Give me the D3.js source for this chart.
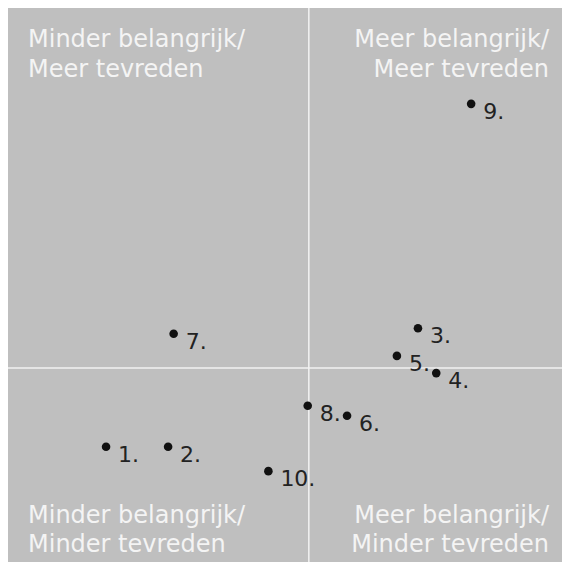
<!DOCTYPE html>
<html><head><meta charset="utf-8">
<script src="https://cdn.jsdelivr.net/npm/d3@7"></script>
<style>html,body{margin:0;padding:0;background:#fff;}svg{display:block;}</style>
</head><body>
<script>
const labels = ["1.","2.","3.","4.","5.","6.","7.","8.","9.","10."];
const belang = [17.7, 28.9, 74.0, 77.3, 70.2, 61.2, 29.9, 54.1, 83.6, 47.0];
const tevreden = [20.8, 20.8, 42.2, 34.1, 37.2, 26.4, 41.2, 28.2, 82.7, 16.4];
const xCross = 54.3, yCross = 35.0;
const quadrantText = [
  {lines:["Minder belangrijk/","Meer tevreden"], qx:"left", qy:"top"},
  {lines:["Meer belangrijk/","Meer tevreden"], qx:"right", qy:"top"},
  {lines:["Minder belangrijk/","Minder tevreden"], qx:"left", qy:"bottom"},
  {lines:["Meer belangrijk/","Minder tevreden"], qx:"right", qy:"bottom"}
];
const W=562,H=562;
const svg=d3.select("body").append("svg").attr("width",W).attr("height",H);
const x=d3.scaleLinear().domain([0,100]).range([8,562]);
const y=d3.scaleLinear().domain([0,100]).range([562,8]);
svg.append("rect").attr("x",8).attr("y",8).attr("width",554).attr("height",554).attr("fill","#bfbfbf");
svg.append("line").attr("x1",x(xCross)).attr("x2",x(xCross)).attr("y1",8).attr("y2",562).attr("stroke","#f2f2f2").attr("stroke-width",1.5);
svg.append("line").attr("y1",y(yCross)).attr("y2",y(yCross)).attr("x1",8).attr("x2",562).attr("stroke","#f2f2f2").attr("stroke-width",1.5);
const font="Verdana, 'DejaVu Sans', sans-serif";
quadrantText.forEach(q=>{
  const tx = q.qx==="left"?28:549;
  const ty = q.qy==="top"?[47,77]:[523,552];
  q.lines.forEach((l,i)=>{
    svg.append("text").attr("x",tx).attr("y",ty[i]).attr("text-anchor",q.qx==="left"?"start":"end")
      .attr("font-family",font).attr("font-size",24).attr("fill","#f4f4f4").text(l);
  });
});
const pts=labels.map((l,i)=>({l,b:belang[i],t:tevreden[i]}));
const g=svg.append("g");
g.selectAll("circle").data(pts).join("circle").attr("cx",d=>x(d.b)).attr("cy",d=>y(d.t)).attr("r",4.3).attr("fill","#111");
g.selectAll("text").data(pts).join("text").attr("x",d=>x(d.b)+12).attr("y",d=>y(d.t)+15)
  .attr("font-family",font).attr("font-size",22).attr("fill","#222").text(d=>d.l);
</script>
</body></html>
